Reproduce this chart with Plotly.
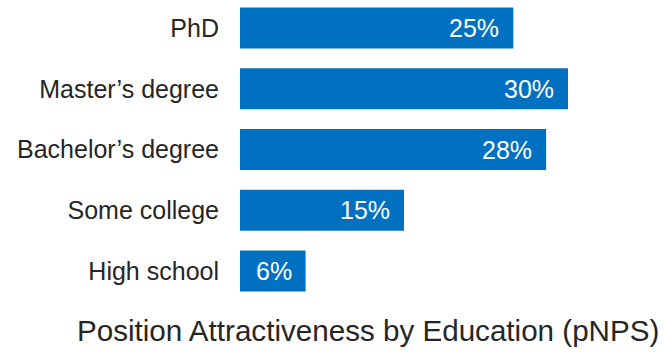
import plotly.graph_objects as go

categories = ["PhD", "Master\u2019s degree", "Bachelor\u2019s degree", "Some college", "High school"]
values = [25, 30, 28, 15, 6]
value_labels = [f"{v}%" for v in values]
title_text = "Position Attractiveness by Education (pNPS)"

BAR_COLOR = "#0070C0"
TEXT_COLOR = "#262626"
FONT = "Liberation Sans, Arial, sans-serif"

fig = go.Figure(
    go.Bar(
        x=values,
        y=categories,
        orientation="h",
        marker=dict(color=BAR_COLOR, line=dict(width=0)),
        hoverinfo="skip",
    )
)

# value labels inside the right end of each bar
for cat, v, lab in zip(categories, values, value_labels):
    fig.add_annotation(
        x=v, y=cat, xref="x", yref="y",
        text=lab, showarrow=False,
        xanchor="right", yanchor="middle", xshift=-12,
        font=dict(family=FONT, size=25, color="white"),
    )

# axis title under the bars
fig.add_annotation(
    x=(368 - 240) / 328, y=-0.103, xref="paper", yref="paper",
    text=title_text, showarrow=False,
    xanchor="center", yanchor="middle",
    font=dict(family=FONT, size=29.6, color=TEXT_COLOR),
)

fig.update_layout(
    width=665, height=353,
    margin=dict(l=240, r=97, t=0, b=53),
    paper_bgcolor="white", plot_bgcolor="white",
    bargap=0.325,
    showlegend=False,
    font=dict(family=FONT, color=TEXT_COLOR),
    xaxis=dict(range=[0, 30], visible=False, fixedrange=True),
    yaxis=dict(
        type="category",
        categoryorder="array", categoryarray=categories,
        range=[4.477, -0.461],
        showgrid=False, zeroline=False, showline=False,
        ticks="", ticklabelstandoff=20,
        tickfont=dict(family=FONT, size=25, color=TEXT_COLOR),
        fixedrange=True,
    ),
)

fig.write_html("out.html")
